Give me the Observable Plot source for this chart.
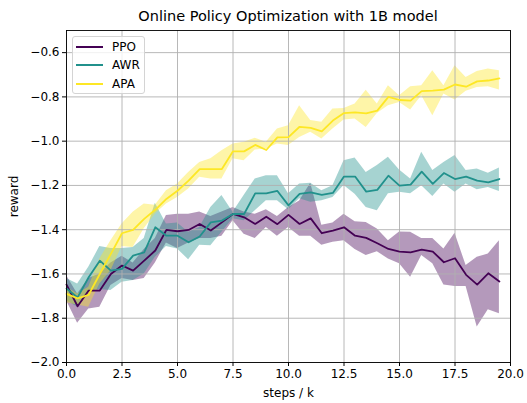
<!DOCTYPE html>
<html><head><meta charset="utf-8">
<script src="https://cdn.jsdelivr.net/npm/d3@7"></script>
<script src="https://cdn.jsdelivr.net/npm/@observablehq/plot@0.6"></script>
<style>
body{margin:0;background:#fff;font-family:"DejaVu Sans",sans-serif;}
#wrap{position:relative;width:527px;height:403px;}
#title{box-sizing:border-box;width:527px;height:26px;padding:8px 17px 0 66px;text-align:center;font-size:14.5px;line-height:16px;color:#000;white-space:nowrap;}
#legend{position:absolute;left:72px;top:36px;width:73px;height:58px;box-sizing:border-box;border:1px solid #d4d4d4;border-radius:3px;background:rgba(255,255,255,0.8);}
.item{position:absolute;left:0;width:72px;height:16px;}
.item .sw{position:absolute;left:3px;top:7px;width:27px;height:2px;}
.item .lb{position:absolute;left:39px;top:0;font-size:12px;line-height:16px;color:#000;}
</style>
</head><body>
<div id="wrap">
<div id="title">Online Policy Optimization with 1B model</div>
<div id="chart"></div>
<div id="legend"></div>
</div>
<script>
const steps = [0,0.5,1,1.5,2,2.5,3,3.5,4,4.5,5,5.5,6,6.5,7,7.5,8,8.5,9,9.5,10,10.5,11,11.5,12,12.5,13,13.5,14,14.5,15,15.5,16,16.5,17,17.5,18,18.5,19,19.5];
const names = ["PPO","AWR","APA"];
const colors = ["#440154","#21918c","#fde725"];
const xTicks = [0,2.5,5,7.5,10,12.5,15,17.5,20];
const yTicks = [-2.0,-1.8,-1.6,-1.4,-1.2,-1.0,-0.8,-0.6];

const ppoMean = [-1.648,-1.746,-1.675,-1.675,-1.600,-1.562,-1.585,-1.540,-1.494,-1.401,-1.407,-1.401,-1.374,-1.404,-1.367,-1.329,-1.344,-1.374,-1.341,-1.375,-1.333,-1.374,-1.349,-1.416,-1.404,-1.389,-1.427,-1.437,-1.461,-1.487,-1.499,-1.502,-1.490,-1.499,-1.547,-1.529,-1.604,-1.648,-1.597,-1.634];
const ppoLo = [-1.72,-1.823,-1.758,-1.75,-1.652,-1.62,-1.63,-1.62,-1.55,-1.46,-1.485,-1.46,-1.44,-1.44,-1.43,-1.36,-1.42,-1.44,-1.39,-1.43,-1.39,-1.43,-1.43,-1.47,-1.457,-1.45,-1.49,-1.517,-1.50,-1.532,-1.554,-1.615,-1.517,-1.554,-1.65,-1.657,-1.657,-1.84,-1.762,-1.78];
const ppoHi = [-1.607,-1.69,-1.62,-1.60,-1.55,-1.52,-1.55,-1.49,-1.44,-1.336,-1.33,-1.33,-1.32,-1.34,-1.32,-1.30,-1.32,-1.33,-1.31,-1.34,-1.30,-1.27,-1.19,-1.38,-1.37,-1.33,-1.364,-1.367,-1.397,-1.45,-1.41,-1.412,-1.44,-1.44,-1.487,-1.416,-1.562,-1.525,-1.51,-1.45];

const awrMean = [-1.666,-1.706,-1.615,-1.54,-1.585,-1.577,-1.517,-1.502,-1.389,-1.427,-1.427,-1.457,-1.431,-1.367,-1.359,-1.329,-1.329,-1.236,-1.236,-1.225,-1.29,-1.238,-1.231,-1.243,-1.234,-1.160,-1.160,-1.228,-1.22,-1.156,-1.201,-1.196,-1.138,-1.193,-1.144,-1.171,-1.160,-1.178,-1.186,-1.171];
const awrLo = [-1.72,-1.75,-1.68,-1.67,-1.675,-1.637,-1.63,-1.60,-1.525,-1.476,-1.487,-1.536,-1.47,-1.472,-1.412,-1.351,-1.359,-1.314,-1.269,-1.269,-1.31,-1.26,-1.276,-1.269,-1.254,-1.20,-1.24,-1.30,-1.314,-1.238,-1.231,-1.238,-1.201,-1.25,-1.193,-1.231,-1.193,-1.22,-1.209,-1.227];
const awrHi = [-1.62,-1.645,-1.57,-1.476,-1.485,-1.485,-1.48,-1.44,-1.281,-1.374,-1.37,-1.412,-1.39,-1.30,-1.246,-1.321,-1.246,-1.171,-1.156,-1.156,-1.238,-1.193,-1.19,-1.224,-1.201,-1.088,-1.076,-1.141,-1.11,-1.073,-1.13,-1.171,-1.05,-1.133,-1.096,-1.065,-1.133,-1.126,-1.145,-1.121];

const apaMean = [-1.69,-1.71,-1.694,-1.60,-1.509,-1.416,-1.401,-1.351,-1.31,-1.261,-1.224,-1.178,-1.126,-1.126,-1.126,-1.046,-1.046,-1.017,-1.04,-0.983,-0.982,-0.935,-0.94,-0.956,-0.907,-0.873,-0.87,-0.874,-0.862,-0.80,-0.814,-0.817,-0.774,-0.772,-0.767,-0.744,-0.754,-0.73,-0.726,-0.716];
const apaLo = [-1.73,-1.74,-1.75,-1.645,-1.585,-1.476,-1.48,-1.396,-1.329,-1.284,-1.254,-1.216,-1.163,-1.171,-1.171,-1.08,-1.088,-1.04,-1.035,-1.013,-1.02,-0.983,-0.96,-0.99,-0.945,-0.904,-0.90,-0.938,-0.875,-0.84,-0.825,-0.859,-0.795,-0.885,-0.787,-0.814,-0.775,-0.757,-0.754,-0.769];
const apaHi = [-1.66,-1.69,-1.66,-1.532,-1.45,-1.374,-1.321,-1.284,-1.29,-1.224,-1.193,-1.141,-1.096,-1.08,-1.043,-1.013,-1.005,-0.987,-1.005,-0.945,-0.93,-0.84,-0.907,-0.915,-0.855,-0.852,-0.832,-0.77,-0.832,-0.75,-0.795,-0.754,-0.75,-0.682,-0.75,-0.659,-0.712,-0.685,-0.674,-0.682];

const series = [
  {mean: ppoMean, lo: ppoLo, hi: ppoHi},
  {mean: awrMean, lo: awrLo, hi: awrHi},
  {mean: apaMean, lo: apaLo, hi: apaHi}
];
const rows = [];
series.forEach((s, k) => steps.forEach((t, i) => rows.push({name: names[k], t, m: s.mean[i], lo: s.lo[i], hi: s.hi[i]})));

const fmt = d3.format(".1f");
const gridStyle = {stroke: "#b0b0b0", strokeOpacity: 1, strokeWidth: 0.9};

const chart = Plot.plot({
  width: 527, height: 377,
  marginTop: 4, marginRight: 17, marginBottom: 41, marginLeft: 66,
  style: {fontFamily: "DejaVu Sans", fontSize: "12px", color: "#000", background: "#fff"},
  x: {domain: [0, 20]},
  y: {domain: [-2.0, -0.5]},
  color: {domain: names, range: colors},
  marks: [
    Plot.areaY(rows, {x: "t", y1: "lo", y2: "hi", fill: "name", z: "name", fillOpacity: 0.4}),
    Plot.gridX(xTicks, gridStyle),
    Plot.gridY(yTicks, gridStyle),
    Plot.line(rows, {x: "t", y: "m", stroke: "name", z: "name", strokeWidth: 1.8}),
    Plot.frame({stroke: "#000", strokeWidth: 0.9}),
    Plot.axisX(xTicks, {tickSize: 4, tickPadding: 3, tickFormat: fmt, fontSize: 12, label: "steps / k", labelAnchor: "center", labelOffset: 34, labelArrow: "none"}),
    Plot.axisY(yTicks, {tickSize: 4, tickPadding: 3, tickFormat: fmt, fontSize: 12, label: "reward", labelAnchor: "center", labelOffset: 57, labelArrow: "none"})
  ]
});
document.getElementById("chart").appendChild(chart);

const legend = document.getElementById("legend");
const itemTops = [2, 20, 39];
names.forEach((n, k) => {
  const it = document.createElement("div");
  it.className = "item";
  it.style.top = itemTops[k] + "px";
  it.innerHTML = `<div class="sw" style="background:${colors[k]}"></div><div class="lb">${n}</div>`;
  legend.appendChild(it);
});
</script>
</body></html>
